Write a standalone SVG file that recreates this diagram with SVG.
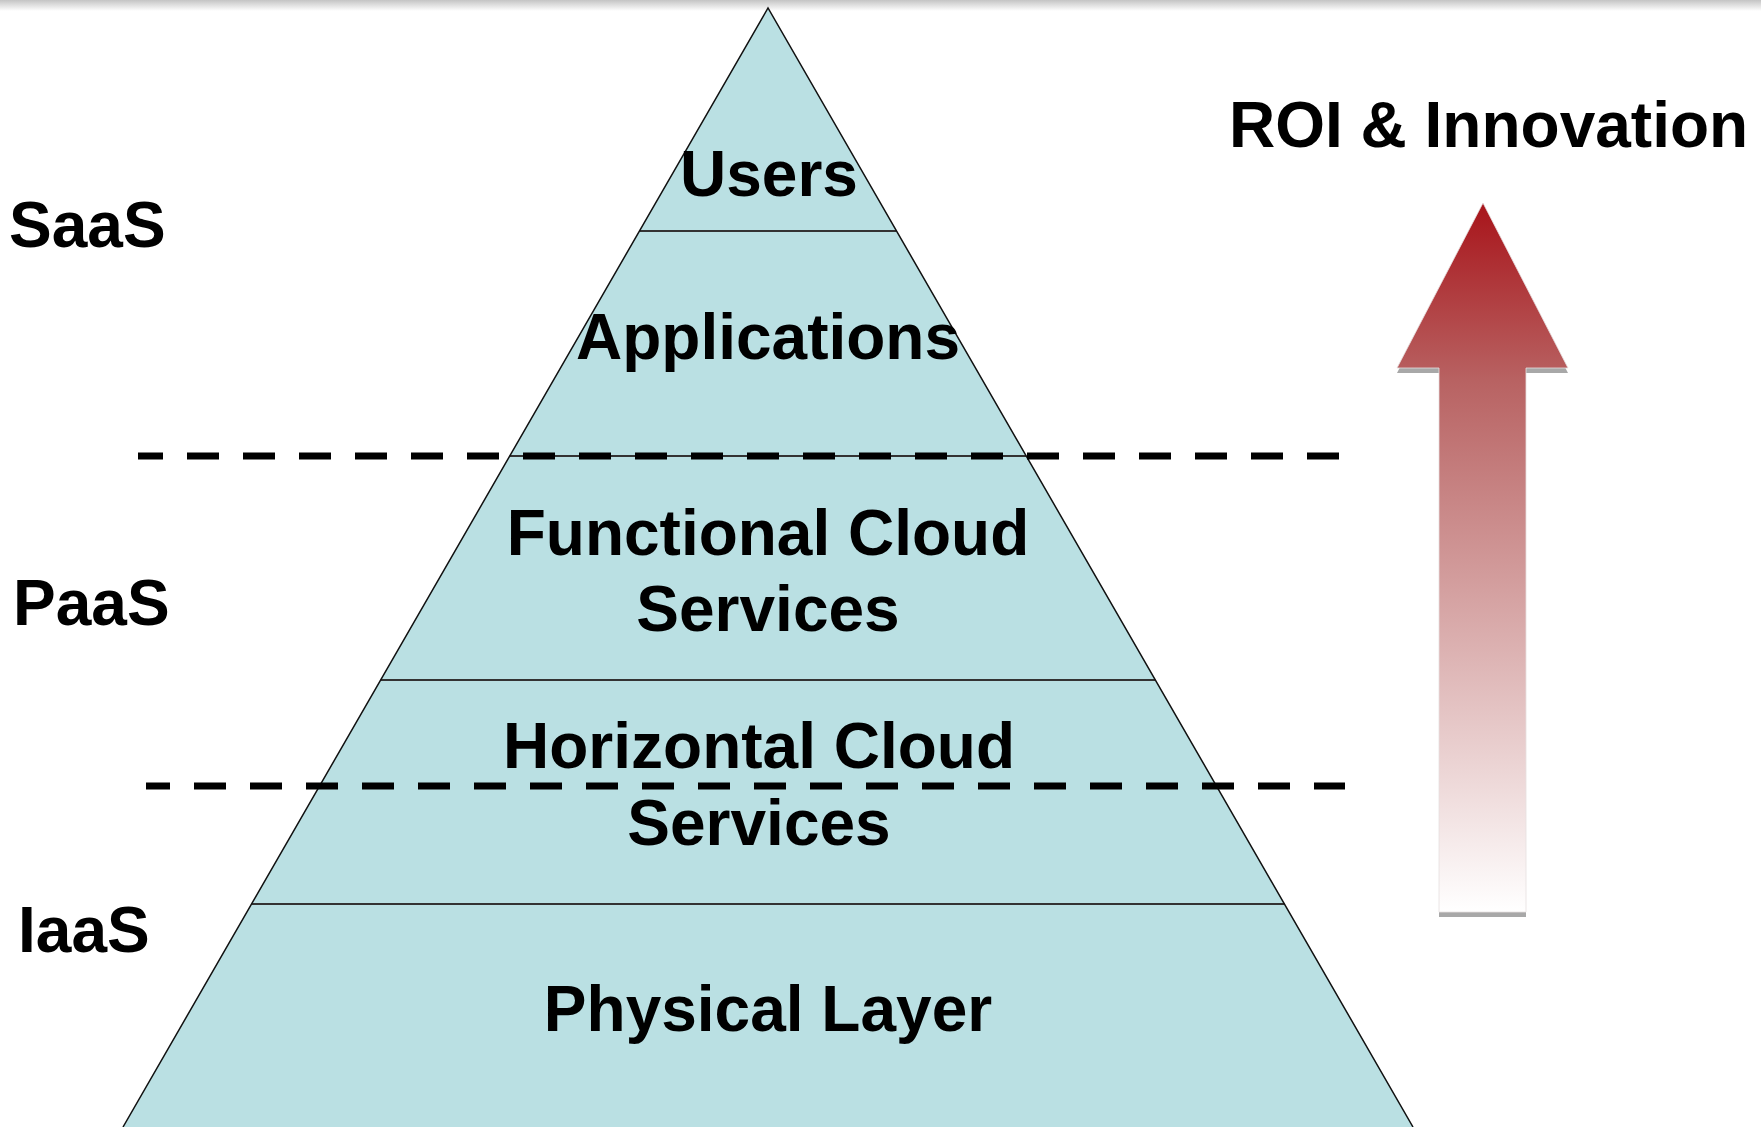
<svg xmlns="http://www.w3.org/2000/svg" width="1761" height="1127" viewBox="0 0 1761 1127">
  <defs>
    <linearGradient id="topShade" x1="0" y1="0" x2="0" y2="1">
      <stop offset="0" stop-color="#c4c4c4"/>
      <stop offset="1" stop-color="#ffffff"/>
    </linearGradient>
    <linearGradient id="arrowFill" gradientUnits="userSpaceOnUse" x1="0" y1="203" x2="0" y2="912">
      <stop offset="0" stop-color="#a8141a"/>
      <stop offset="0.25" stop-color="#b86262"/>
      <stop offset="1" stop-color="#ffffff"/>
    </linearGradient>
    <style>
      .lbl { font-family: "Liberation Sans", Arial, sans-serif; font-weight: bold; font-size: 64px; fill: #000; }
      .mid { text-anchor: middle; }
      .layer { fill: #bae0e3; stroke: none; }
      .divider { stroke: #333; stroke-width: 2; }
      .outline { fill: none; stroke: #111; stroke-width: 1.5; stroke-linejoin: miter; }
      .dash { stroke: #000; stroke-width: 7; stroke-dasharray: 32 24; }
    </style>
  </defs>

  <rect x="0" y="0" width="1761" height="1127" fill="#ffffff"/>
  <rect x="0" y="0" width="1761" height="11" fill="url(#topShade)"/>

  <!-- pyramid body -->
  <g id="pyramid">
    <polygon class="layer" points="768,8 1413,1127 123,1127"/>
    <line class="divider" x1="639.5" y1="231" x2="896.5" y2="231"/>
    <line class="divider" x1="509.8" y1="456" x2="1026.2" y2="456"/>
    <line class="divider" x1="380.7" y1="680" x2="1155.3" y2="680"/>
    <line class="divider" x1="251.5" y1="904" x2="1284.5" y2="904"/>
    <polyline class="outline" points="123,1127 768,8 1413,1127"/>
  </g>

  <g id="layer-users">
    <text class="lbl mid" x="769" y="196">Users</text>
  </g>
  <g id="layer-applications">
    <text class="lbl mid" x="768" y="359">Applications</text>
  </g>
  <g id="layer-functional">
    <text class="lbl mid" x="768" y="555">Functional Cloud</text>
    <text class="lbl mid" x="768" y="631">Services</text>
  </g>
  <g id="layer-horizontal">
    <text class="lbl mid" x="759" y="768">Horizontal Cloud</text>
    <text class="lbl mid" x="759" y="845">Services</text>
  </g>
  <g id="layer-physical">
    <text class="lbl mid" x="768" y="1031">Physical Layer</text>
  </g>

  <!-- service tier separators -->
  <g id="connectors">
    <line class="dash" x1="138" y1="456" x2="1339" y2="456" stroke-dashoffset="7"/>
    <line class="dash" x1="146" y1="786" x2="1345" y2="786" stroke-dashoffset="8"/>
  </g>

  <g id="tier-saas">
    <text class="lbl" x="9" y="247">SaaS</text>
  </g>
  <g id="tier-paas">
    <text class="lbl" x="13" y="625">PaaS</text>
  </g>
  <g id="tier-iaas">
    <text class="lbl" x="18" y="952">IaaS</text>
  </g>

  <!-- ROI arrow -->
  <g id="roi-arrow">
    <polygon points="1483,208 1568,373 1526,373 1526,917 1439,917 1439,373 1397,373" fill="#a8a8a8"/>
    <polygon points="1483,203 1568,368 1526,368 1526,912 1439,912 1439,368 1397,368" fill="url(#arrowFill)" stroke="#e6e0e0" stroke-width="0.8"/>
    <text class="lbl" x="1229" y="147">ROI &amp; Innovation</text>
  </g>
</svg>
